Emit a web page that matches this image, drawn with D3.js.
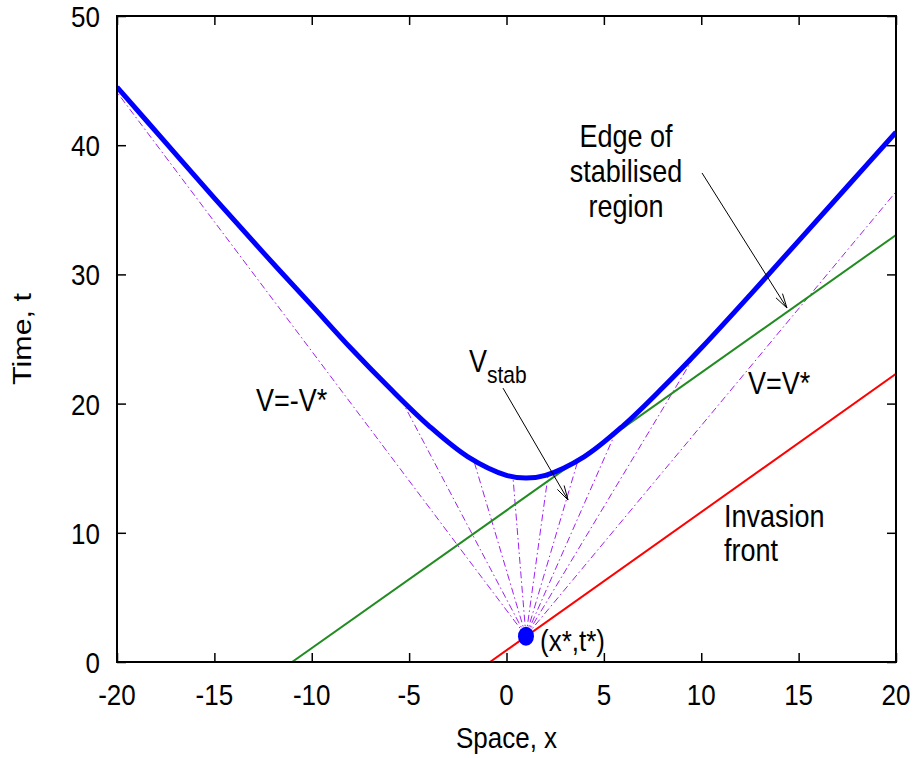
<!DOCTYPE html>
<html>
<head>
<meta charset="utf-8">
<script src="https://cdn.jsdelivr.net/npm/d3@7"></script>
<style>
  body { margin: 0; background: #fff; }
  svg { display: block; }
  text { font-family: "Liberation Sans", Arial, Helvetica, sans-serif; fill: #000; }
</style>
</head>
<body>
<svg id="chart" width="918" height="758"></svg>
<script>
// ---------- data ----------
const xTicks = [-20, -15, -10, -5, 0, 5, 10, 15, 20];
const tTicks = [0, 10, 20, 30, 40, 50];

// edge of stabilised region (thick blue curve)
const edgeX = [-20, -17.5, -15, -12.5, -10, -8, -6, -4, -2, 0, 1, 2, 4, 6, 8, 10, 12.5, 15, 17.5, 20];
const edgeT = [44.5, 40.2, 35.9, 31.7, 27.6, 24.3, 21.2, 18.3, 15.9, 14.45, 14.24, 14.45, 15.9, 18.3, 21.2, 24.3, 28.4, 32.6, 36.8, 41.0];

// invasion front (red)
const frontX = [-0.85, 20];
const frontT = [0, 22.3];

// V = V* line through the edge (green)
const stabX = [-11.01, 20];
const stabT = [0, 33.05];

// point (x*, t*)
const originX = 1.0;
const originT = 2.0;

// characteristic rays from (x*, t*) (dash-dot purple)
const rayEndX = [-20, -5.47, -1.7, 0.33, 2.13, 3.67, 5.67, 9.78, 20];
const rayEndT = [44.1, 20.5, 15.7, 14.35, 14.4, 15.6, 18.0, 24.0, 36.4];

// ---------- layout ----------
const svg = d3.select("#chart");
const L = 117, R = 896, T = 16, B = 662;
const x = d3.scaleLinear().domain([-20, 20]).range([L, R]);
const y = d3.scaleLinear().domain([0, 50]).range([B, T]);
const FS = 26, FA = 27, SY = 1.17;

svg.append("defs").append("clipPath").attr("id", "clip")
  .append("rect").attr("x", L).attr("y", T).attr("width", R - L).attr("height", B - T);

const g = svg.append("g").attr("clip-path", "url(#clip)");

// rays
const rays = rayEndX.map((ex, i) => [[originX, originT], [ex, rayEndT[i]]]);
g.selectAll(".ray").data(rays).enter().append("path")
  .attr("class", "ray")
  .attr("d", d3.line().x(d => x(d[0])).y(d => y(d[1])))
  .attr("fill", "none")
  .attr("stroke", "#a020f0")
  .attr("stroke-width", 1)
  .attr("stroke-dasharray", "7,3,1.5,3");

// green line
g.append("path")
  .datum(stabX.map((v, i) => [v, stabT[i]]))
  .attr("d", d3.line().x(d => x(d[0])).y(d => y(d[1])))
  .attr("fill", "none").attr("stroke", "#228b22").attr("stroke-width", 2);

// red line
g.append("path")
  .datum(frontX.map((v, i) => [v, frontT[i]]))
  .attr("d", d3.line().x(d => x(d[0])).y(d => y(d[1])))
  .attr("fill", "none").attr("stroke", "#ff0000").attr("stroke-width", 2);

// blue curve
g.append("path")
  .datum(edgeX.map((v, i) => [v, edgeT[i]]))
  .attr("d", d3.line().x(d => x(d[0])).y(d => y(d[1])).curve(d3.curveCatmullRom.alpha(0.5)))
  .attr("fill", "none").attr("stroke", "#0000ff").attr("stroke-width", 5)
  .attr("stroke-linejoin", "round");

// dot
svg.append("ellipse")
  .attr("cx", x(originX)).attr("cy", y(originT)).attr("rx", 8).attr("ry", 9.5)
  .attr("fill", "#0000ff");

// ---------- axes (inward ticks on all sides) ----------
const tickLen = 9;
svg.append("g").attr("transform", `translate(0,${B})`)
  .call(d3.axisBottom(x).tickValues(xTicks).tickSize(-tickLen).tickFormat(""))
  .call(a => a.select(".domain").remove());
svg.append("g").attr("transform", `translate(0,${T})`)
  .call(d3.axisTop(x).tickValues(xTicks).tickSize(-tickLen).tickFormat(""))
  .call(a => a.select(".domain").remove());
svg.append("g").attr("transform", `translate(${L},0)`)
  .call(d3.axisLeft(y).tickValues(tTicks).tickSize(-tickLen).tickFormat(""))
  .call(a => a.select(".domain").remove());
svg.append("g").attr("transform", `translate(${R},0)`)
  .call(d3.axisRight(y).tickValues(tTicks).tickSize(-tickLen).tickFormat(""))
  .call(a => a.select(".domain").remove());
svg.selectAll(".tick line").attr("stroke", "#000").attr("stroke-width", 1.5);

svg.append("rect").attr("x", L).attr("y", T).attr("width", R - L).attr("height", B - T)
  .attr("fill", "none").attr("stroke", "#000").attr("stroke-width", 2);

// text helper: vertically stretched like the reference
function label(px, py, str, size, anchor, rot) {
  const t = svg.append("text")
    .attr("transform", `translate(${px},${py}) scale(1,${SY})` + (rot ? ` rotate(${rot})` : ""))
    .attr("x", 0).attr("y", 0)
    .attr("text-anchor", anchor || "start")
    .attr("font-size", size)
    .text(str);
  return t;
}

// tick labels
xTicks.forEach(d => label(x(d), 705, d, FS, "middle"));
tTicks.forEach(d => label(100, y(d) + 11, d, FS, "end"));

// axis titles
label((L + R) / 2, 748, "Space, x", FS, "middle");
label(31, (T + B) / 2, "Time, t", FS, "middle", -90);

// ---------- annotations ----------
function arrow(x0, t0, x1, t1) {
  const px0 = x(x0), py0 = y(t0), px1 = x(x1), py1 = y(t1);
  const ang = Math.atan2(py1 - py0, px1 - px0);
  const hl = 15, ha = 15 * Math.PI / 180;
  svg.append("line").attr("x1", px0).attr("y1", py0).attr("x2", px1).attr("y2", py1)
    .attr("stroke", "#000").attr("stroke-width", 1);
  [ang + Math.PI - ha, ang + Math.PI + ha].forEach(a => {
    svg.append("line").attr("x1", px1).attr("y1", py1)
      .attr("x2", px1 + hl * Math.cos(a)).attr("y2", py1 + hl * Math.sin(a))
      .attr("stroke", "#000").attr("stroke-width", 1);
  });
}
arrow(-0.18, 21.2, 3.16, 12.54);
arrow(10.04, 37.85, 14.4, 27.4);

const edgeLines = ["Edge of", "stabilised", "region"];
edgeLines.forEach((d, i) => label(626, 147 + i * 35, d, FA, "middle"));

const vs = svg.append("text")
  .attr("transform", `translate(469,372) scale(1,${SY})`)
  .attr("font-size", FA);
vs.append("tspan").text("V");
vs.append("tspan").attr("dy", 9.5).attr("font-size", 21).text("stab");

label(256, 411, "V=-V*", FA);
label(748, 394, "V=V*", FA);

label(724, 527, "Invasion", FA);
label(724, 561, "front", FA);

label(540, 651, "(x*,t*)", FS);
</script>
</body>
</html>
